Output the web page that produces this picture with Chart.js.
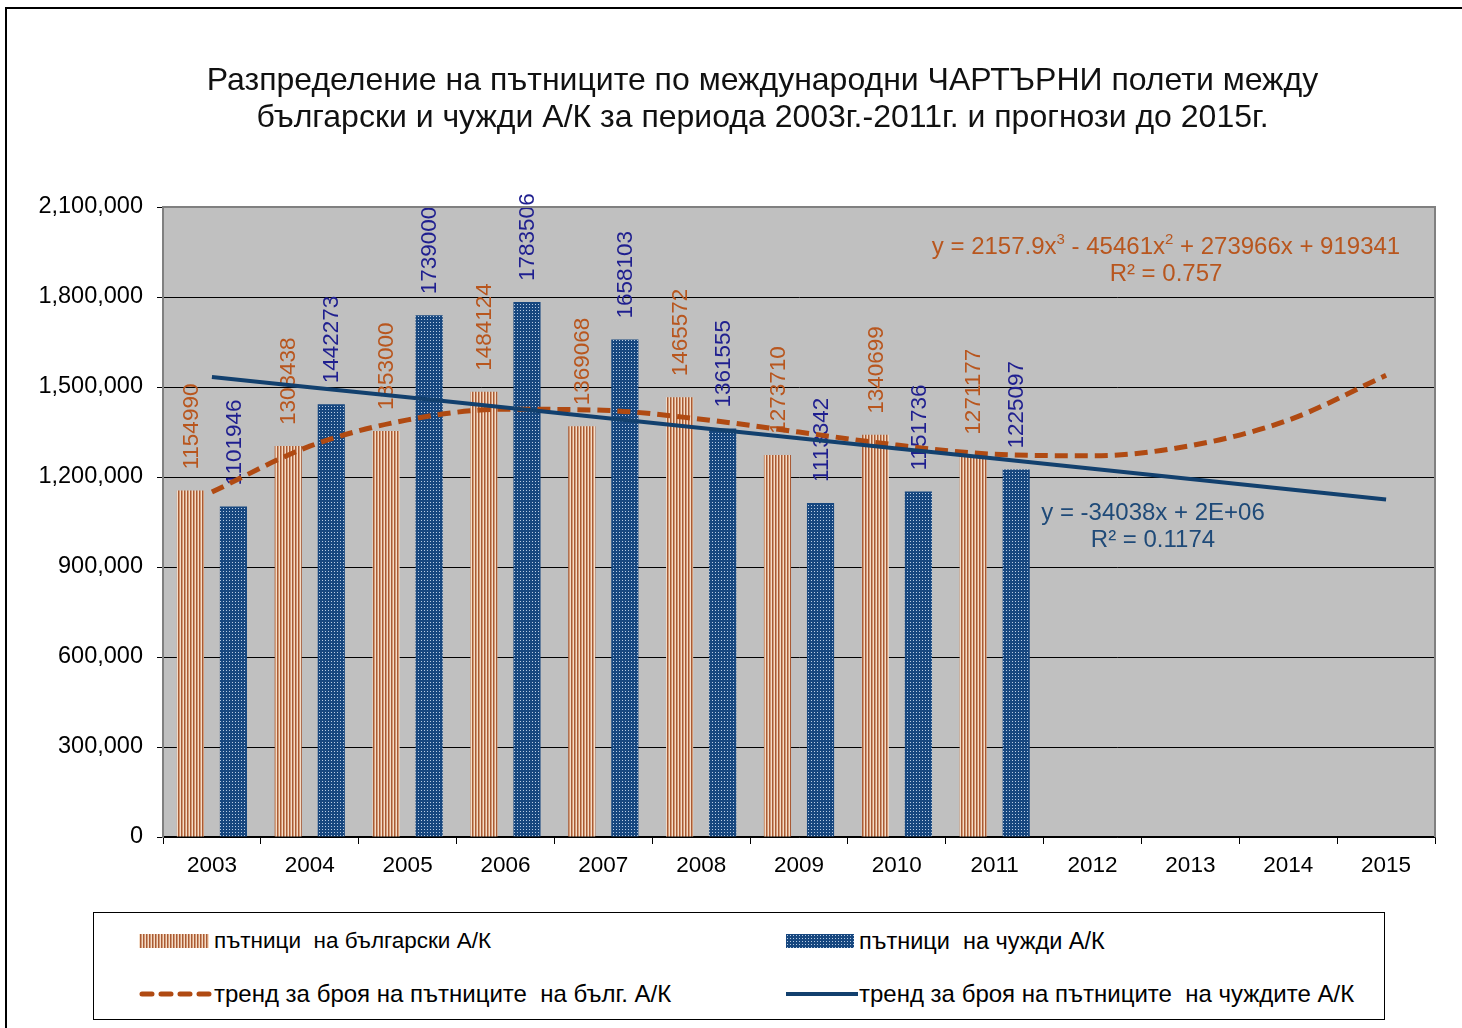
<!DOCTYPE html>
<html>
<head>
<meta charset="utf-8">
<script src="https://cdn.jsdelivr.net/npm/chart.js@4.4.1/dist/chart.umd.min.js"></script>
<style>
  body { margin:0; background:#fff; font-family:"Liberation Sans", Arial, sans-serif; }
  #wrap { position:relative; width:1462px; height:1028px; overflow:hidden; }
  #frame { position:absolute; left:5px; top:7px; width:1500px; height:1100px; border-left:2px solid #000; border-top:2px solid #000; }
  #chart { position:absolute; left:0; top:0; }
  .title { position:absolute; left:0; width:1525px; top:61px; text-align:center; font-size:32px; line-height:37px; color:#111; }
  .eq { position:absolute; width:560px; text-align:center; font-size:24px; line-height:27px; }
  .eq sup { font-size:15px; vertical-align:10px; line-height:0; }
  #legend { position:absolute; left:93px; top:912px; width:1292px; height:108px; border:1px solid #000; box-sizing:border-box; background:#fff; }
  .li { position:absolute; line-height:26px; color:#000; white-space:pre; }
  .sw { position:absolute; }
</style>
</head>
<body>
<div id="wrap">
  <div id="frame"></div>
  <canvas id="chart" width="1462" height="1028"></canvas>
  <div class="title">Разпределение на пътниците по международни ЧАРТЪРНИ полети между<br>български и чужди А/К за периода 2003г.-2011г. и прогнози до 2015г.</div>
  <div class="eq" style="left:886px; top:232px; color:#b8561e;">y = 2157.9x<sup>3</sup> - 45461x<sup>2</sup> + 273966x + 919341<br>R² = 0.757</div>
  <div class="eq" style="left:873px; top:498px; color:#1f4a78;">y = -34038x + 2E+06<br>R² = 0.1174</div>
  <div id="legend">
    <svg class="sw" style="left:45px; top:21px;" width="70" height="14">
      <defs>
        <pattern id="pStripe" width="3" height="3" patternUnits="userSpaceOnUse">
          <rect width="3" height="3" fill="#f4dcc8"/><rect x="1" width="1" height="3" fill="#a85a35"/><rect x="2" width="1" height="3" fill="#d39a75"/>
        </pattern>
        <pattern id="pDot" width="3" height="3" patternUnits="userSpaceOnUse">
          <rect width="3" height="3" fill="#17477f"/><rect x="1" y="1" width="1" height="1" fill="#b8cce4"/>
        </pattern>
      </defs>
      <rect width="70" height="14" fill="url(#pStripe)"/>
    </svg>
    <span class="li" style="left:120px; top:15px; font-size:22.5px;">пътници  на български А/К</span>
    <svg class="sw" style="left:692px; top:21px;" width="68" height="14"><rect width="68" height="14" fill="url(#pDot)"/></svg>
    <span class="li" style="left:765px; top:15px; font-size:23.5px;">пътници  на чужди А/К</span>
    <svg class="sw" style="left:45px; top:76px;" width="74" height="10"><line x1="3" y1="5" x2="74" y2="5" stroke="#b04a12" stroke-width="5" stroke-linecap="round" stroke-dasharray="10 9"/></svg>
    <span class="li" style="left:120px; top:68px; font-size:24px;">тренд за броя на пътниците  на бълг. А/К</span>
    <svg class="sw" style="left:692px; top:76px;" width="72" height="10"><line x1="0" y1="5" x2="72" y2="5" stroke="#12406e" stroke-width="4"/></svg>
    <span class="li" style="left:765px; top:68px; font-size:24px;">тренд за броя на пътниците  на чуждите А/К</span>
  </div>
</div>
<script>
// Data
const years = ['2003','2004','2005','2006','2007','2008','2009','2010','2011','2012','2013','2014','2015'];
const bgPassengers = [1154990, 1303438, 1353000, 1484124, 1369068, 1465572, 1273710, 1340699, 1271177];
const foreignPassengers = [1101946, 1442273, 1739000, 1783506, 1658103, 1361555, 1113342, 1151736, 1225097];
const bgTrend = [1150000, 1302700, 1390400, 1425900, 1422400, 1392600, 1349700, 1306400, 1275800, 1270800, 1304400, 1389400, 1538900];
const foreignTrend = [1533500, 1499500, 1465500, 1431400, 1397400, 1363400, 1329300, 1295300, 1261300, 1227200, 1193200, 1159200, 1125100];
const yTicks = [0, 300000, 600000, 900000, 1200000, 1500000, 1800000, 2100000];

const BROWN = '#b8561e', NAVY = '#1f1f8f';
const FONT = '"Liberation Sans", Arial, sans-serif';

function makePattern(w, h, draw) {
  const c = document.createElement('canvas');
  c.width = w; c.height = h;
  draw(c.getContext('2d'));
  return document.getElementById('chart').getContext('2d').createPattern(c, 'repeat');
}
const stripePattern = makePattern(3, 3, g => {
  g.fillStyle = '#f4dcc8'; g.fillRect(0, 0, 3, 3);
  g.fillStyle = '#a85a35'; g.fillRect(1, 0, 1, 3);
  g.fillStyle = '#d39a75'; g.fillRect(2, 0, 1, 3);
});
const dotPattern = makePattern(3, 3, g => {
  g.fillStyle = '#17477f'; g.fillRect(0, 0, 3, 3);
  g.fillStyle = '#b8cce4'; g.fillRect(1, 1, 1, 1);
});

// plot background + gray frame
const plotArea = {
  id: 'plotArea',
  beforeDraw(chart) {
    const a = chart.chartArea, ctx = chart.ctx;
    ctx.save();
    ctx.fillStyle = '#c0c0c0';
    ctx.fillRect(a.left, a.top, a.right - a.left, a.bottom - a.top);
    ctx.restore();
  },
  afterDraw(chart) {
    const a = chart.chartArea, ctx = chart.ctx;
    ctx.save();
    ctx.strokeStyle = '#808080'; ctx.lineWidth = 2;
    ctx.beginPath();
    ctx.moveTo(a.left, a.top); ctx.lineTo(a.right, a.top); ctx.lineTo(a.right, a.bottom);
    ctx.stroke();
    ctx.restore();
  }
};

// vertical value labels above bars, drawn before the trend lines
const barLabels = {
  id: 'barLabels',
  afterDatasetDraw(chart, args) {
    const ds = chart.data.datasets[args.index];
    if (ds.type !== 'bar') return;
    const ctx = chart.ctx;
    ctx.save();
    ctx.font = '22.5px ' + FONT;
    ctx.fillStyle = ds.labelColor;
    ctx.textAlign = 'left';
    ctx.textBaseline = 'middle';
    args.meta.data.forEach((bar, i) => {
      if (ds.data[i] == null) return;
      ctx.save();
      ctx.translate(bar.x + 1, bar.y - 21);
      ctx.rotate(-Math.PI / 2);
      ctx.fillText(String(ds.data[i]), 0, 0);
      ctx.restore();
    });
    ctx.restore();
  }
};

new Chart(document.getElementById('chart'), {
  data: {
    labels: years,
    datasets: [
      { type: 'line', data: foreignTrend, borderColor: '#12406e', borderWidth: 4,
        pointRadius: 0, tension: 0, order: 0 },
      { type: 'line', data: bgTrend, borderColor: '#b04a12', borderWidth: 5, borderDash: [13, 7],
        pointRadius: 0, cubicInterpolationMode: 'monotone', order: 1 },
      { type: 'bar', data: bgPassengers, backgroundColor: stripePattern, labelColor: BROWN,
        categoryPercentage: 0.88, barPercentage: 0.63, order: 2 },
      { type: 'bar', data: foreignPassengers, backgroundColor: dotPattern, labelColor: NAVY,
        categoryPercentage: 0.88, barPercentage: 0.63, order: 2 }
    ]
  },
  options: {
    responsive: false,
    animation: false,
    layout: { padding: { top: 207, right: 27, left: 0, bottom: 0 } },
    plugins: { legend: { display: false }, tooltip: { enabled: false } },
    scales: {
      x: {
        offset: true,
        grid: { drawOnChartArea: false, drawTicks: true, tickLength: 7, color: '#000', offset: true },
        border: { color: '#000', width: 1.5 },
        ticks: { color: '#000', font: { size: 22.5, family: FONT }, padding: 8, maxRotation: 0 },
        afterFit: s => { s.height = 191; }
      },
      y: {
        min: 0, max: 2100000,
        afterBuildTicks: s => { s.ticks = yTicks.map(v => ({ value: v })); },
        grid: { color: '#000', lineWidth: 1, tickLength: 6 },
        border: { color: '#808080', width: 2 },
        ticks: { color: '#000', font: { size: 23.5, family: FONT }, padding: 14,
          callback: v => v.toLocaleString('en-US') },
        afterFit: s => { s.width = 163; }
      }
    }
  },
  plugins: [plotArea, barLabels]
});
</script>
</body>
</html>
